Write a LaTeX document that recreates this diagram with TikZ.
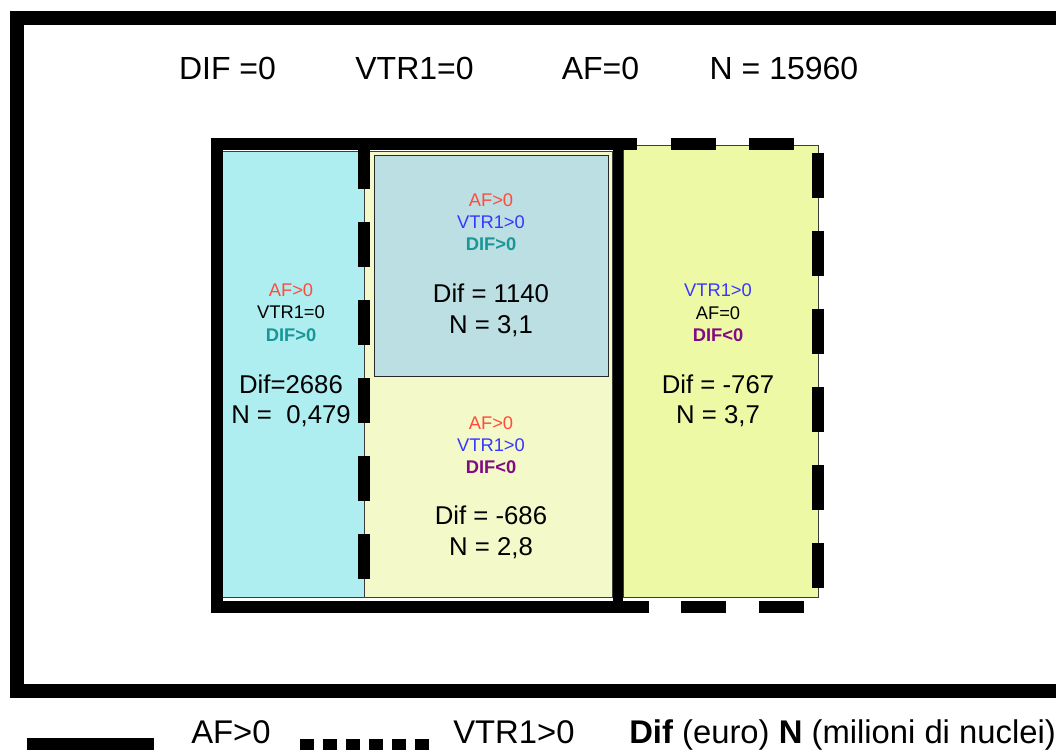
\documentclass[tikz,border=0pt]{standalone}
\usepackage{fontspec}
\setmainfont{Liberation Sans}

\begin{document}
\begin{tikzpicture}[x=0.75pt,y=0.75pt,yscale=-1,xscale=1,
		tag/.style={inner sep=0.75pt,anchor=base,font=\fontsize{13.75}{16}\selectfont},
		val/.style={inner sep=0.75pt,anchor=base,font=\fontsize{19.3}{23}\selectfont},
		head/.style={inner sep=0.75pt,anchor=base,font=\fontsize{24}{28}\selectfont},
		key/.style={inner sep=0.75pt,anchor=base west,font=\fontsize{24.6}{28}\selectfont},
		wall/.style={line width=9pt},
		dwall/.style={line width=9pt,dash pattern={on 33.75pt off 24.75pt}},
		afcol/.style={color={rgb, 255:red, 255; green, 75; blue, 60 }},
		vtrcol/.style={color={rgb, 255:red, 55; green, 55; blue, 255 }},
		difpos/.style={color={rgb, 255:red, 25; green, 150; blue, 150 },font=\fontsize{13.75}{16}\selectfont\bfseries},
		difneg/.style={color={rgb, 255:red, 130; green, 10; blue, 130 },font=\fontsize{13.75}{16}\selectfont\bfseries}]
				\useasboundingbox (0,0) rectangle (1056,755);

				%Shape: Rectangle [id:dp1402] 
				\draw [line width=10.5pt]  (16.5,18) rectangle (1075,691) ;
				%Shape: Rectangle [id:dp2218] 
				\draw  [draw={rgb, 255:red, 60; green, 60; blue, 60 }  ,fill={rgb, 255:red, 174; green, 238; blue, 240 }  ,fill opacity=1 ] (222,151) rectangle (364,597) ;
				%Shape: Rectangle [id:dp3307] 
				\draw  [draw={rgb, 255:red, 60; green, 60; blue, 60 }  ,fill={rgb, 255:red, 243; green, 249; blue, 200 }  ,fill opacity=1 ] (364,151) rectangle (612,597) ;
				%Shape: Rectangle [id:dp4475] 
				\draw  [draw={rgb, 255:red, 40; green, 40; blue, 40 }  ,fill={rgb, 255:red, 187; green, 223; blue, 227 }  ,fill opacity=1 ] (374,155) rectangle (608,376) ;
				%Shape: Rectangle [id:dp5561] 
				\draw  [draw={rgb, 255:red, 60; green, 60; blue, 60 }  ,fill={rgb, 255:red, 238; green, 249; blue, 165 }  ,fill opacity=1 ] (623,145) rectangle (818,597) ;

				%Straight Lines [id:da6120] 
				\draw [wall]   (216.5,138) -- (216.5,613) ;
				%Straight Lines [id:da6231] 
				\draw [wall]   (211,144.5) -- (637,144.5) ;
				%Straight Lines [id:da6342] 
				\draw [dwall]   (671,144.5) -- (795,144.5) ;
				%Straight Lines [id:da6453] 
				\draw [line width=7.5pt]   (618,138) -- (618,612) ;
				%Straight Lines [id:da6564] 
				\draw [wall]   (211,607) -- (649,607) ;
				%Straight Lines [id:da6675] 
				\draw [dwall]   (681,607) -- (806,607) ;
				%Straight Lines [id:da6786] 
				\draw [dwall]   (364,144) -- (364,580) ;
				%Straight Lines [id:da6897] 
				\draw [dwall]   (818,153) -- (818,590) ;

				%Straight Lines [id:da7108] 
				\draw [wall]   (27,744) -- (154,744) ;
				%Straight Lines [id:da7219] 
				\draw [line width=8.6pt,dash pattern={on 10.5pt off 6.75pt}]   (300,744.5) -- (430,744.5) ;

				% Text Node
				\draw (227.5,80) node [head] (difall) {DIF =0};
				% Text Node
				\draw (414.5,80) node [head] (vtrall) {VTR1=0};
				% Text Node
				\draw (600.5,80) node [head] (afall) {AF=0};
				% Text Node
				\draw (784,80) node [head] (nall) {N = 15960};

				% Text Node
				\draw (291,297) node [tag,afcol] (afa) {AF>0};
				% Text Node
				\draw (291,319) node [tag] (vtra) {VTR1=0};
				% Text Node
				\draw (291,342) node [tag,difpos] (difa) {DIF>0};
				% Text Node
				\draw (291,393) node [val] (dfa) {Dif=2686};
				% Text Node
				\draw (291,423) node [val] (na) {N =\ \ 0,479};

				% Text Node
				\draw (491,207) node [tag,afcol] (afb) {AF>0};
				% Text Node
				\draw (491,229) node [tag,vtrcol] (vtrb) {VTR1>0};
				% Text Node
				\draw (491,251) node [tag,difpos] (difb) {DIF>0};
				% Text Node
				\draw (491,303) node [val] (dfb) {Dif = 1140};
				% Text Node
				\draw (491,334) node [val] (nb) {N = 3,1};

				% Text Node
				\draw (491,429) node [tag,afcol] (afc) {AF>0};
				% Text Node
				\draw (491,451) node [tag,vtrcol] (vtrc) {VTR1>0};
				% Text Node
				\draw (491,473) node [tag,difneg] (difc) {DIF<0};
				% Text Node
				\draw (491,524) node [val] (dfc) {Dif = -686};
				% Text Node
				\draw (491,555) node [val] (nc) {N = 2,8};

				% Text Node
				\draw (718,297) node [tag,vtrcol] (vtrd) {VTR1>0};
				% Text Node
				\draw (718,320) node [tag] (afd) {AF=0};
				% Text Node
				\draw (718,342) node [tag,difneg] (difd) {DIF<0};
				% Text Node
				\draw (718,393) node [val] (dfd) {Dif = -767};
				% Text Node
				\draw (718,423) node [val] (nd) {N = 3,7};

				% Text Node
				\draw (190,743) node [key] (keyaf) {AF>0};
				% Text Node
				\draw (452,743) node [key] (keyvtr) {VTR1>0};
				% Text Node
				\draw (628,743) node [key] (keyunit) {\textbf{Dif} (euro) \textbf{N} (milioni di nuclei)};

\end{tikzpicture}
\end{document}
